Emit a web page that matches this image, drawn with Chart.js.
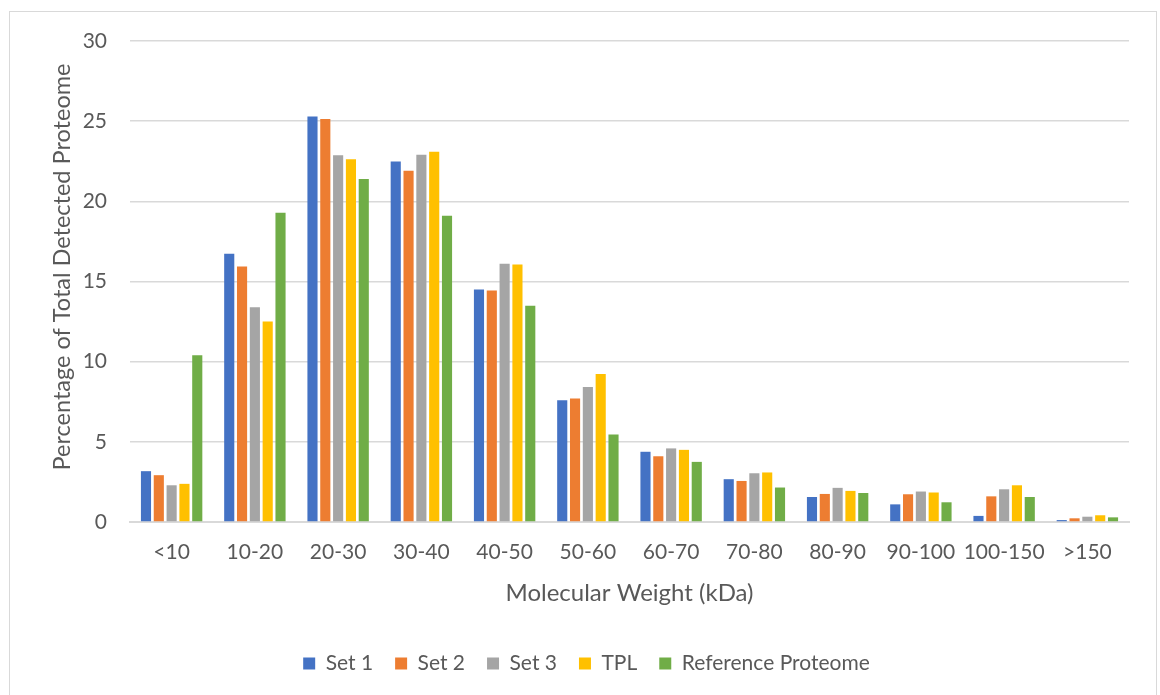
<!DOCTYPE html>
<html>
<head>
<meta charset="utf-8">
<script src="https://cdn.jsdelivr.net/npm/chart.js@4/dist/chart.umd.min.js"></script>
<style>
  html, body { margin: 0; padding: 0; background: #ffffff; }
  #frame { position: absolute; left: 9px; top: 11px; width: 1148px; height: 700px; border: 1px solid #d9d9d9; box-sizing: border-box; }
  #c { position: absolute; left: 0; top: 0; }
</style>
</head>
<body>
<div id="frame"></div>
<canvas id="c" width="1160" height="695"></canvas>
<script>
// Molecular weight bins (kDa)
const categories = ['<10', '10-20', '20-30', '30-40', '40-50', '50-60', '60-70', '70-80', '80-90', '90-100', '100-150', '>150'];

// Percentage of total detected proteome per bin
const set1      = [3.17, 16.73, 25.29, 22.48, 14.50, 7.60, 4.38, 2.67, 1.56, 1.10, 0.38, 0.12];
const set2      = [2.92, 15.94, 25.13, 21.90, 14.44, 7.71, 4.10, 2.56, 1.75, 1.73, 1.60, 0.23];
const set3      = [2.29, 13.40, 22.88, 22.90, 16.10, 8.42, 4.59, 3.04, 2.13, 1.90, 2.04, 0.33];
const tpl       = [2.38, 12.50, 22.63, 23.10, 16.06, 9.23, 4.50, 3.09, 1.94, 1.84, 2.29, 0.42];
const reference = [10.40, 19.29, 21.40, 19.10, 13.48, 5.46, 3.75, 2.15, 1.81, 1.23, 1.56, 0.29];

const yTicks = [0, 5, 10, 15, 20, 25, 30];
const yTitle = 'Percentage of Total Detected Proteome';

const FONT = 'Lato, "Open Sans", sans-serif';
const TEXT = '#595959';
const GRID = '#d9d9d9';

const mk = (label, data, color) => ({
  label, data, backgroundColor: color, borderWidth: 0,
  categoryPercentage: 0.77, barPercentage: 0.79
});

// Vertical axis title, centred on the whole chart frame rather than the plot area
const yTitlePlugin = {
  id: 'yTitle',
  afterDraw(chart) {
    const ctx = chart.ctx;
    ctx.save();
    ctx.translate(62, 267);
    ctx.rotate(-Math.PI / 2);
    ctx.fillStyle = TEXT;
    ctx.font = '23.5px ' + FONT;
    ctx.textAlign = 'center';
    ctx.textBaseline = 'middle';
    ctx.fillText(yTitle, 0, 0);
    ctx.restore();
  }
};

new Chart(document.getElementById('c'), {
  type: 'bar',
  data: {
    labels: categories,
    datasets: [
      mk('Set 1', set1, '#4472C4'),
      mk('Set 2', set2, '#ED7D31'),
      mk('Set 3', set3, '#A5A5A5'),
      mk('TPL', tpl, '#FFC000'),
      mk('Reference Proteome', reference, '#70AD47')
    ]
  },
  plugins: [yTitlePlugin],
  options: {
    responsive: false,
    animation: false,
    layout: { padding: { left: 44, right: 31, top: 41, bottom: 11 } },
    plugins: {
      tooltip: { enabled: false },
      legend: {
        position: 'bottom',
        labels: {
          color: TEXT,
          font: { family: FONT, size: 21 },
          boxWidth: 12, boxHeight: 12,
          padding: 22
        }
      }
    },
    scales: {
      x: {
        grid: { display: false, drawTicks: false },
        border: { display: true, color: GRID, width: 2 },
        ticks: { color: TEXT, font: { family: FONT, size: 21 }, padding: 18, maxRotation: 0, autoSkip: false },
        title: { display: true, text: 'Molecular Weight (kDa)', color: TEXT, font: { family: FONT, size: 24 }, padding: { top: -4, bottom: 23 } }
      },
      y: {
        min: 0, max: 30,
        afterBuildTicks: (axis) => { axis.ticks = yTicks.map(v => ({ value: v })); },
        afterFit: (axis) => { axis.width = 86; },
        grid: { color: GRID, lineWidth: 1.5, drawTicks: false },
        border: { display: false },
        ticks: { color: TEXT, font: { family: FONT, size: 21 }, padding: 23 },
        title: { display: false }
      }
    }
  }
});
</script>
</body>
</html>
